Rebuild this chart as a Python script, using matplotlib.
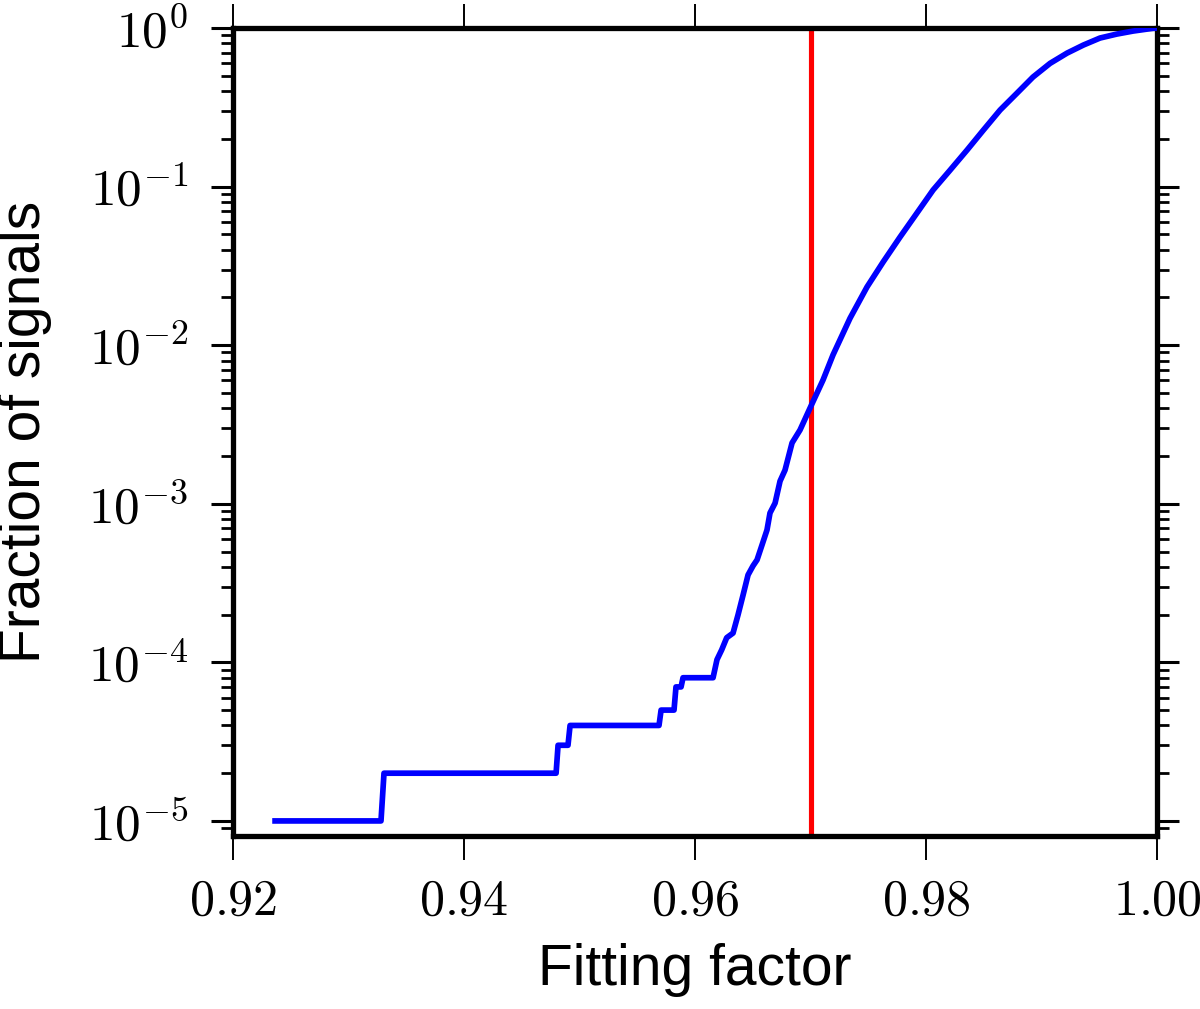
import matplotlib
matplotlib.use("Agg")
import matplotlib.pyplot as plt
from matplotlib.ticker import FixedLocator, FixedFormatter, LogLocator, NullFormatter

plt.rcParams['mathtext.fontset'] = 'cm'
plt.rcParams['font.family'] = ['Liberation Sans', 'DejaVu Sans']

# Cumulative fraction of signals vs fitting factor
ff = [0.92364, 0.93281, 0.93307, 0.94797, 0.94814, 0.94900, 0.94918,
      0.95688, 0.95706, 0.95818, 0.95835, 0.95879, 0.95896, 0.96156,
      0.96190, 0.96231, 0.96274, 0.96329, 0.96372, 0.96416, 0.96459,
      0.96502, 0.96537, 0.96580, 0.96623, 0.96649, 0.96693, 0.96736,
      0.96779, 0.96840, 0.96909, 0.96996, 0.97108, 0.97195,
      0.97342, 0.97489, 0.97630, 0.97775, 0.97919, 0.98061, 0.98208,
      0.98355, 0.98496, 0.98641, 0.98785, 0.98926, 0.99074, 0.99221,
      0.99362, 0.99506, 0.99651, 0.99792, 0.99965, 1.00000]
frac = [1e-5, 1e-5, 2e-5, 2e-5, 3e-5, 3e-5, 4e-5,
        4e-5, 5e-5, 5e-5, 7e-5, 7e-5, 8e-5, 8e-5,
        1.04e-4, 1.20e-4, 1.43e-4, 1.53e-4, 1.99e-4, 2.66e-4, 3.56e-4,
        4.06e-4, 4.43e-4, 5.50e-4, 6.84e-4, 8.75e-4, 1.01e-3, 1.39e-3,
        1.63e-3, 2.42e-3, 2.92e-3, 4.02e-3, 6.03e-3, 8.70e-3,
        1.48e-2, 2.33e-2, 3.36e-2, 4.81e-2, 6.78e-2, 9.52e-2, 0.127,
        0.170, 0.227, 0.304, 0.387, 0.491, 0.599, 0.695,
        0.781, 0.865, 0.916, 0.957, 0.997, 1.0]
threshold = 0.97

xticks = [0.92, 0.94, 0.96, 0.98, 1.00]
xticklabels = ['0.92', '0.94', '0.96', '0.98', '1.00']
yticks = [1e-5, 1e-4, 1e-3, 1e-2, 1e-1, 1e0]
yticklabels = ['-5', '-4', '-3', '-2', '-1', '0']

fig = plt.figure(figsize=(12, 10.09), dpi=100)
ax = fig.add_axes([0.1942, 0.1715, 0.7700, 0.8007])

ax.plot(ff, frac, color='blue', lw=4.1, solid_joinstyle='round', zorder=3)
ax.axvline(threshold, color='red', lw=3.7, zorder=2)

ax.set_yscale('log')
ax.set_xlim(0.92, 1.00)
ax.set_ylim(8.04e-6, 1.0)

ax.xaxis.set_major_locator(FixedLocator(xticks))
ax.xaxis.set_major_formatter(FixedFormatter([r'$\mathrm{%s}$' % s for s in xticklabels]))
ax.yaxis.set_major_locator(FixedLocator(yticks))
ax.yaxis.set_major_formatter(FixedFormatter([r'$\mathrm{10}^{%s}$' % s for s in yticklabels]))
ax.yaxis.set_minor_locator(LogLocator(base=10, subs=range(2, 10), numticks=20))
ax.yaxis.set_minor_formatter(NullFormatter())

for sp in ax.spines.values():
    sp.set_linewidth(3.8)

ax.tick_params(axis='x', which='major', direction='out', top=True, bottom=True,
               length=17, width=1.4, pad=14, labelsize=36)
ax.tick_params(axis='y', which='major', direction='out', left=True, right=True,
               length=16, width=2.2, pad=16, labelsize=37)
ax.tick_params(axis='y', which='minor', direction='out', left=True, right=True,
               length=8.5, width=2.0)

ax.set_xlabel('Fitting factor', fontsize=41, va='top')
ax.xaxis.set_label_coords(0.5, -0.1324)
ax.set_ylabel('Fraction of signals', fontsize=41)
ax.yaxis.set_label_coords(-0.196, 0.5)

fig.savefig('out.png', dpi=100)
